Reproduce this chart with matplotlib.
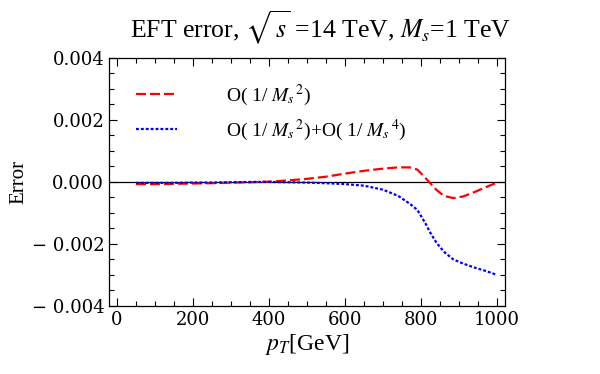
import matplotlib
matplotlib.use("Agg")
import matplotlib.pyplot as plt
from matplotlib.ticker import MultipleLocator

plt.rcParams["font.family"] = ["Liberation Serif", "DejaVu Serif"]
plt.rcParams["mathtext.fontset"] = "stix"

# values
pt = [50, 100, 150, 200, 250, 300, 350, 400, 450, 500, 550, 600, 650, 700,
      740, 770, 790, 810, 825, 840, 860, 885, 910, 940, 970, 1000]
err_m2 = [-0.00007, -0.00007, -0.00006, -0.00005, -0.00004, -0.00002, -0.00001,
          0.00001, 0.00005, 0.00010, 0.00017, 0.00027, 0.00036, 0.00043,
          0.00047, 0.00047, 0.00040, 0.00015, -0.00005, -0.00025, -0.00045,
          -0.00052, -0.00047, -0.00033, -0.00017, -0.00002]
err_m4 = [-0.00003, -0.00003, -0.00003, -0.00002, -0.00002, -0.00001, 0.00000,
          0.00000, -0.00001, -0.00002, -0.00004, -0.00007, -0.00012, -0.00025,
          -0.00045, -0.00070, -0.00090, -0.00130, -0.00165, -0.00195, -0.00225,
          -0.00250, -0.00263, -0.00276, -0.00287, -0.00300]

fig = plt.figure(figsize=(6, 3.74), dpi=100)
ax = fig.add_axes([0.1817, 0.182, 0.66, 0.663])

ax.axhline(0, color="black", lw=0.9, zorder=1)
ax.plot(pt, err_m2, color="#ff0000", lw=1.6, dashes=(4.5, 1.8),
        label=r"O( 1/ $M_s$$^{\,2}$)")
ax.plot(pt, err_m4, color="#0000ff", lw=1.6, dashes=(1.3, 0.9),
        label=r"O( 1/ $M_s$$^{\,2}$)+O( 1/ $M_s$$^{\,4}$)")

ax.set_xlim(-21, 1021)
ax.set_ylim(-0.004, 0.004)
ax.xaxis.set_major_locator(MultipleLocator(200))
ax.xaxis.set_minor_locator(MultipleLocator(50))
ax.yaxis.set_major_locator(MultipleLocator(0.002))
ax.yaxis.set_minor_locator(MultipleLocator(0.0005))
ax.yaxis.set_major_formatter(plt.FuncFormatter(
    lambda v, p: ("\u2212 %.3f" % abs(v)) if v < -1e-9 else "%.3f" % abs(v)))
ax.tick_params(which="both", direction="in", top=True, right=True,
               labelsize=13, width=0.8)
for lab in ax.get_xticklabels() + ax.get_yticklabels():
    lab.set_family("DejaVu Serif")
ax.tick_params(which="major", length=6)
ax.tick_params(which="minor", length=3.5)
for s in ax.spines.values():
    s.set_linewidth(0.9)

ax.set_xlabel(r"$p_T$[GeV]", fontsize=17, labelpad=2)
ax.set_ylabel("Error", fontsize=15, labelpad=2)
ax.set_title(r"EFT error, $\sqrt{\,s}$ =14 TeV, $M_s$=1 TeV", fontsize=18.5,
             pad=14, x=0.535)

ax.legend(loc="upper left", frameon=False, fontsize=14, handlelength=2.1,
          handletextpad=2.5, labelspacing=0.5, bbox_to_anchor=(0.025, 0.97))

fig.savefig("out.png", dpi=100)
